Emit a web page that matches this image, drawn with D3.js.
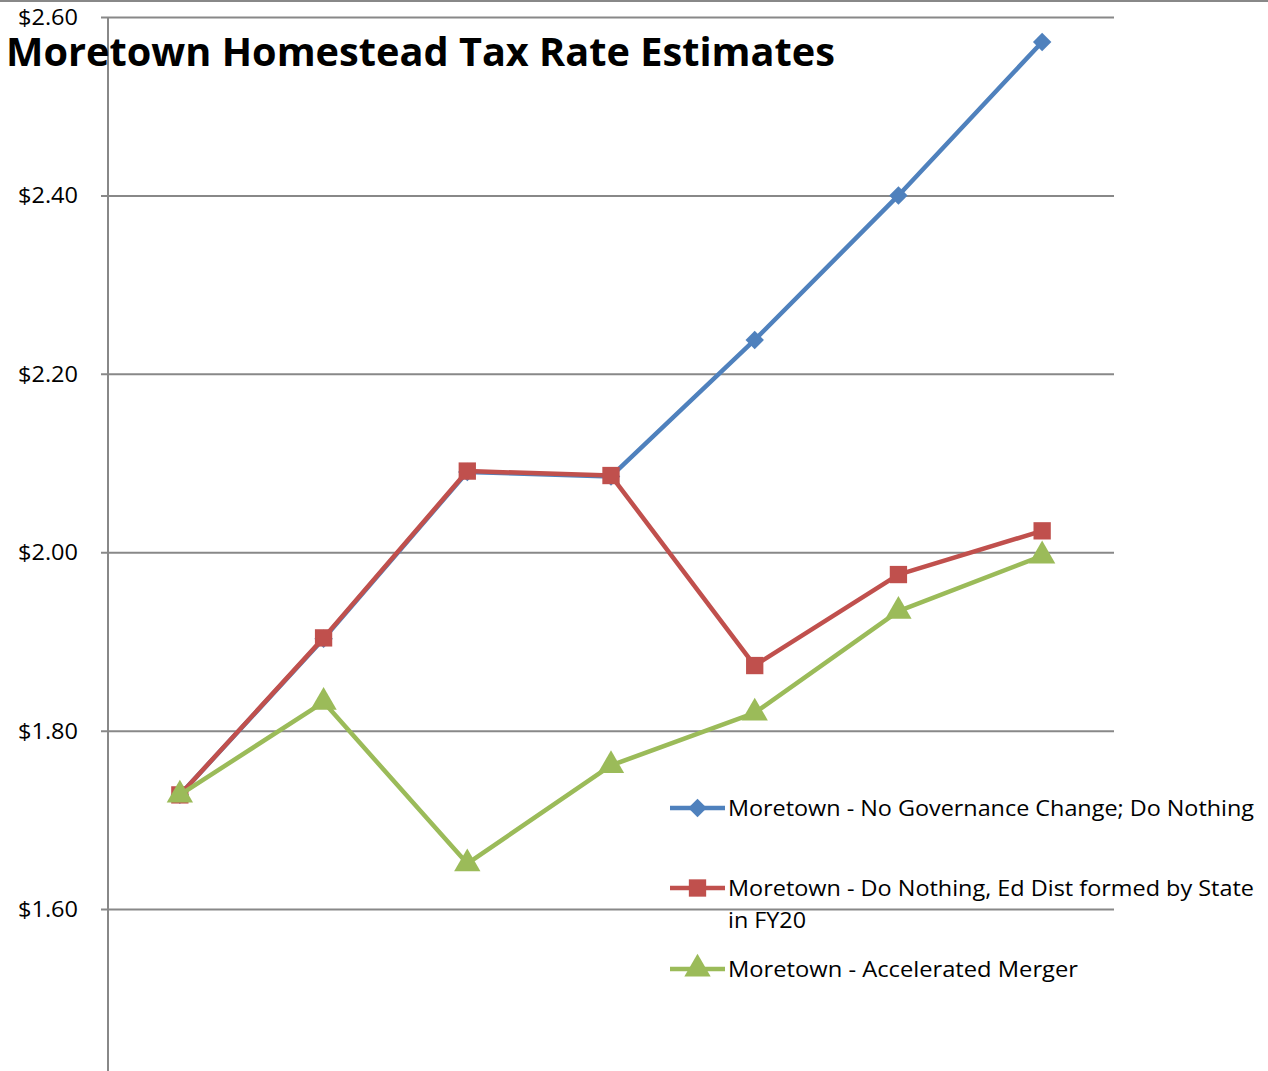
<!DOCTYPE html>
<html>
<head>
<meta charset="utf-8">
<script src="https://cdn.jsdelivr.net/npm/d3@7"></script>
<style>
  body { margin: 0; background: #fff; }
  svg { display: block; }
  svg text { font-family: "Open Sans", "Noto Sans", sans-serif; }
</style>
</head>
<body>
<div id="chart"></div>
<script>
const years = ["FY17", "FY18", "FY19", "FY20", "FY21", "FY22", "FY23"];
const noChange = [1.728, 1.903, 2.090, 2.085, 2.238, 2.400, 2.572];
const stateFormed = [1.728, 1.904, 2.091, 2.086, 1.873, 1.975, 2.024];
const accelerated = [1.728, 1.832, 1.651, 1.761, 1.820, 1.934, 1.996];
const yTicks = [1.6, 1.8, 2.0, 2.2, 2.4, 2.6];

const width = 1268;
const height = 1071;
const left = 108;
const right = 1114;

const series = [
  { name: "Moretown - No Governance Change; Do Nothing", values: noChange, color: "#4F81BD", shape: "diamond" },
  { name: "Moretown - Do Nothing, Ed Dist formed by State", name2: "in FY20", values: stateFormed, color: "#C0504D", shape: "square" },
  { name: "Moretown - Accelerated Merger", values: accelerated, color: "#9BBB59", shape: "triangle" }
];

const svg = d3.select("#chart").append("svg")
  .attr("width", width)
  .attr("height", height);

// outer top border
svg.append("line")
  .attr("x1", 0).attr("x2", width)
  .attr("y1", 1).attr("y2", 1)
  .attr("stroke", "#888").attr("stroke-width", 2);

const xScale = d3.scaleBand().domain(years).range([left, right]);
const yScale = d3.scaleLinear().domain([1.4, 2.6]).range([1087.5, 17]);
const xPos = d => xScale(d) + xScale.bandwidth() / 2;

// gridlines + ticks
const yAxis = d3.axisLeft(yScale)
  .tickValues(yTicks)
  .tickSize(-(right - left))
  .tickSizeOuter(0)
  .tickPadding(30)
  .tickFormat(d => "$" + d3.format(".2f")(d));

const gy = svg.append("g")
  .attr("transform", `translate(${left},0)`)
  .call(yAxis)
  .attr("font-family", null)
  .attr("font-size", null);
gy.select(".domain").remove();
gy.selectAll(".tick line").attr("stroke", "#888").attr("stroke-width", 2).attr("x1", -7);
gy.selectAll(".tick text")
  .attr("fill", "#000")
  .style("font-size", "21px")
  .attr("textLength", 60)
  .attr("lengthAdjust", "spacingAndGlyphs")
  .attr("dy", "0.35em");

// vertical axis line
svg.append("line")
  .attr("x1", left).attr("x2", left)
  .attr("y1", yScale(2.6)).attr("y2", height)
  .attr("stroke", "#888").attr("stroke-width", 2);

// title
svg.append("text")
  .attr("x", 6).attr("y", 66)
  .attr("font-weight", "bold")
  .attr("font-size", 39)
  .attr("textLength", 829)
  .attr("lengthAdjust", "spacingAndGlyphs")
  .text("Moretown Homestead Tax Rate Estimates");

const line = d3.line()
  .x((d, i) => xPos(years[i]))
  .y(d => yScale(d));

const symbolFor = shape => {
  if (shape === "diamond") return d3.symbol().type(d3.symbolSquare).size(170)();
  if (shape === "square") return d3.symbol().type(d3.symbolSquare).size(300)();
  return d3.symbol().type(d3.symbolTriangle).size(300)();
};

series.forEach(s => {
  const g = svg.append("g");
  g.append("path")
    .datum(s.values)
    .attr("fill", "none")
    .attr("stroke", s.color)
    .attr("stroke-width", 4.5)
    .attr("stroke-linejoin", "round")
    .attr("d", line);
  g.selectAll("path.mark")
    .data(s.values)
    .enter().append("path")
    .attr("class", "mark")
    .attr("d", symbolFor(s.shape))
    .attr("fill", s.color)
    .attr("transform", (d, i) => `translate(${xPos(years[i])},${yScale(d)})` + (s.shape === "diamond" ? " rotate(45)" : ""));
});

// legend
const legendY = [808, 888, 969];
const legendLen = [526, 526, 350];
series.forEach((s, i) => {
  const g = svg.append("g").attr("transform", `translate(670,${legendY[i]})`);
  g.append("line")
    .attr("x1", 0).attr("x2", 55)
    .attr("stroke", s.color).attr("stroke-width", 4.5);
  g.append("path")
    .attr("d", symbolFor(s.shape))
    .attr("fill", s.color)
    .attr("transform", `translate(27.5,0)` + (s.shape === "diamond" ? " rotate(45)" : ""));
  g.append("text")
    .attr("x", 58).attr("dy", "0.35em")
    .style("font-size", "22px")
    .attr("textLength", legendLen[i])
    .attr("lengthAdjust", "spacingAndGlyphs")
    .text(s.name);
  if (s.name2) {
    g.append("text")
      .attr("x", 58).attr("y", 32).attr("dy", "0.35em")
      .style("font-size", "22px")
      .attr("textLength", 78)
      .attr("lengthAdjust", "spacingAndGlyphs")
      .text(s.name2);
  }
});
</script>
</body>
</html>
